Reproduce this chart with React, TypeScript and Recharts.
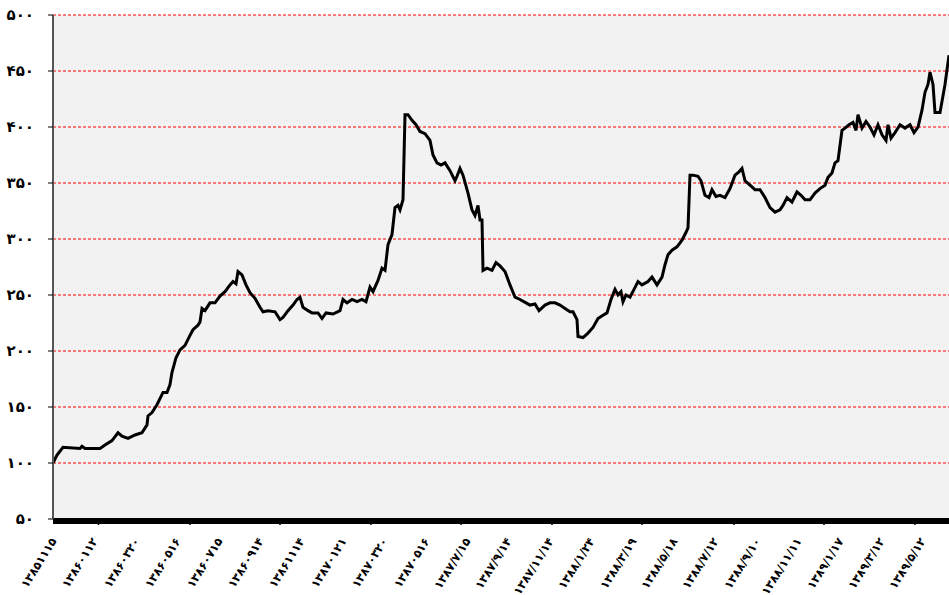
import React from "react";
import { LineChart, Line, XAxis, YAxis, CartesianGrid } from "recharts";

// trading-day index (position along the period) and price index value
const dayIndex = [
  0, 4, 10, 27, 29, 32, 47, 52, 59, 65, 69, 75, 82, 89, 94, 95, 99, 104, 110, 114,
  117, 119, 123, 127, 132, 137, 140, 145, 147, 149, 152, 157, 162, 167, 172, 177, 180, 183, 185, 189,
  193, 197, 202, 207, 210, 215, 222, 227, 230, 235, 240, 244, 247, 250, 255, 259, 265, 269, 273, 280,
  287, 290, 294, 299, 304, 309, 313, 317, 320, 325, 329, 332, 335, 339, 342, 345, 347, 350, 352, 355,
  359, 363, 367, 372, 377, 380, 384, 388, 392, 397, 402, 404, 407, 410, 415, 419, 422, 425, 427, 429,
  430, 434, 439, 443, 447, 452, 457, 462, 467, 473, 477, 482, 486, 492, 497, 502, 507, 512, 517, 520,
  524, 525, 530, 535, 540, 545, 550, 554, 558, 562, 565, 568, 570, 573, 577, 581, 585, 589, 595, 599,
  604, 609, 612, 615, 619, 624, 629, 633, 635, 637, 640, 645, 648, 652, 656, 659, 663, 667, 672, 677,
  682, 686, 689, 692, 697, 702, 707, 712, 717, 722, 727, 730, 734, 739, 744, 748, 752, 757, 762, 767,
  772, 775, 779, 782, 785, 789, 792, 796, 800, 803, 805, 809, 813, 817, 821, 825, 829, 833, 835, 838,
  842, 847, 852, 857, 861, 865, 869, 872, 875, 877, 880, 882, 887, 892, 896,
];
const price = [
  100, 107, 114, 113, 115, 113, 113, 116, 120, 127, 124, 122, 125, 127, 134, 142, 145, 152, 163, 163,
  170, 181, 194, 201, 205, 214, 219, 223, 226, 238, 236, 243, 243, 249, 253, 259, 262, 260, 271, 268,
  259, 252, 247, 239, 235, 236, 235, 228, 230, 236, 241, 246, 248, 239, 236, 234, 234, 229, 234, 233,
  236, 246, 243, 246, 244, 246, 244, 257, 253, 263, 274, 272, 295, 304, 328, 330, 326, 335, 411, 411,
  406, 402, 396, 394, 388, 375, 368, 366, 368, 361, 352, 356, 363, 357, 341, 326, 321, 330, 317, 317,
  272, 274, 272, 279, 276, 271, 259, 248, 246, 243, 241, 242, 236, 241, 243, 243, 241, 238, 235, 235,
  228, 213, 212, 216, 221, 229, 232, 234, 246, 255, 250, 253, 244, 250, 248, 255, 262, 259, 262, 266,
  259, 266, 277, 286, 290, 293, 299, 306, 310, 357, 357, 356, 352, 339, 337, 344, 338, 339, 337, 345,
  357, 360, 363, 352, 348, 344, 344, 337, 328, 324, 326, 330, 337, 333, 342, 339, 335, 335, 341, 345,
  348, 355, 359, 368, 370, 397, 399, 402, 404, 397, 411, 399, 405, 400, 393, 402, 393, 388, 402, 390,
  395, 402, 399, 402, 395, 400, 415, 431, 438, 449, 438, 413, 413, 438, 464,
];

const dateLabels = [
  "۱۳۸۵۱۱۱۵", "۱۳۸۶۰۱۱۲", "۱۳۸۶۰۳۲۰", "۱۳۸۶۰۵۱۶", "۱۳۸۶۰۷۱۵", "۱۳۸۶۰۹۱۴",
  "۱۳۸۶۱۱۱۴", "۱۳۸۷۰۱۲۱", "۱۳۸۷۰۳۲۰", "۱۳۸۷۰۵۱۶", "۱۳۸۷/۷/۱۵", "۱۳۸۷/۹/۱۴",
  "۱۳۸۷/۱۱/۱۴", "۱۳۸۸/۱/۲۴", "۱۳۸۸/۳/۱۹", "۱۳۸۸/۵/۱۸", "۱۳۸۸/۷/۱۲", "۱۳۸۸/۹/۱۰",
  "۱۳۸۸/۱۱/۱۱", "۱۳۸۹/۱/۱۷", "۱۳۸۹/۳/۱۲", "۱۳۸۹/۵/۱۲",
];
const labelDay = [
  4, 45, 87, 128, 170, 211, 252, 294, 335, 377, 418, 459, 501, 542, 584, 625, 666, 708, 749, 791, 832, 873,
];
const tickMarkDay = [45.5, 137, 227, 318, 408, 499, 589, 681, 771, 862];

const yTicks = [50, 100, 150, 200, 250, 300, 350, 400, 450, 500];

const data = dayIndex.map((t, i) => ({ t, v: price[i] }));
const labelMap: Record<number, string> = {};
labelDay.forEach((d, i) => (labelMap[d] = dateLabels[i]));
const allTicks = [...labelDay, ...tickMarkDay].sort((a, b) => a - b);

const fa = (n: number | string) =>
  String(n).replace(/\d/g, (d) => "۰۱۲۳۴۵۶۷۸۹"[Number(d)]);

const FONT = "'DejaVu Sans', 'Noto Sans', sans-serif";

const XTick = (props: any) => {
  const { x, y, payload } = props;
  const val = payload.value;
  if (labelMap[val] !== undefined) {
    const ay = y + 14;
    return (
      <text
        x={x}
        y={ay}
        transform={`rotate(-58, ${x}, ${ay})`}
        textAnchor="end"
        fontFamily={FONT}
        fontWeight="bold"
        fontSize={11.5}
        letterSpacing={0.6}
        fill="#000"
      >
        {labelMap[val]}
      </text>
    );
  }
  return <line x1={x} x2={x} y1={y - 8} y2={y - 2} stroke="#000" strokeWidth={1.5} />;
};

export default function App() {
  return (
    <div style={{ position: "absolute", left: 0, top: 0, background: "#fff" }}>
      <LineChart
        width={949}
        height={595}
        data={data}
        margin={{ top: 15, right: 0, bottom: 0, left: 0 }}
      >
        <CartesianGrid
          horizontal
          vertical={false}
          stroke="#ff0000"
          strokeDasharray="3 2"
          fill="#f2f2f2"
        />
        <XAxis
          dataKey="t"
          type="number"
          domain={[0, 896]}
          ticks={allTicks}
          interval={0}
          height={76}
          tick={<XTick />}
          tickLine={false}
          axisLine={{ stroke: "#000", strokeWidth: 6, transform: "translate(0,2)" }}
        />
        <YAxis
          domain={[50, 500]}
          ticks={yTicks}
          interval={0}
          width={53}
          tickSize={5}
          tickMargin={14}
          tickFormatter={fa}
          axisLine={{ stroke: "#555", strokeWidth: 2 }}
          tickLine={{ stroke: "#000", strokeWidth: 1 }}
          tick={{ fill: "#000", fontSize: 15, fontWeight: "bold", fontFamily: FONT }}
        />
        <Line
          type="linear"
          dataKey="v"
          stroke="#000"
          strokeWidth={3}
          dot={false}
          isAnimationActive={false}
        />
      </LineChart>
    </div>
  );
}
